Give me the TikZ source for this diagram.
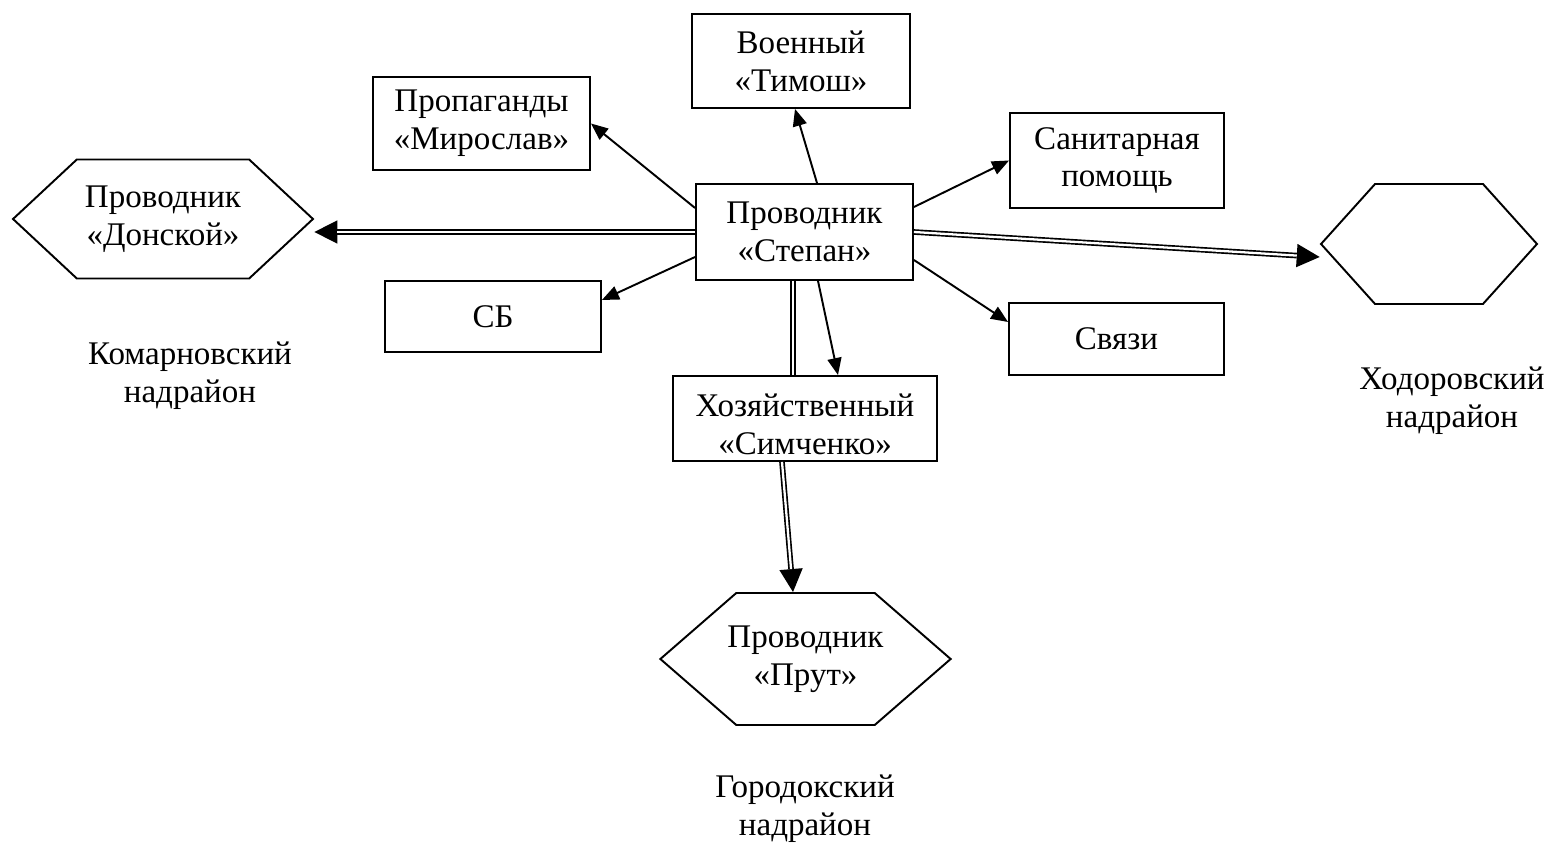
\documentclass[tikz,border=0pt]{standalone}
\usepackage{fontspec}
\setmainfont{Liberation Serif}
\usetikzlibrary{arrows.meta,positioning,calc,shapes.symbols}
\newcommand{\boxfont}{\fontsize{18.8}{21.6}\selectfont}
\tikzset{
  box/.style={draw, line width=1.1pt, align=center, inner sep=2pt, font=\boxfont},
  hexa/.style={draw, line width=1.1pt, shape=signal, signal to=east and west,
               align=center, inner sep=2pt, font=\boxfont},
  note/.style={align=center, font=\boxfont},
  flow/.style={-{Triangle[length=0.34cm,width=0.28cm]}, line width=1.1pt},
  tipd/.style={-{Triangle[length=0.46cm,width=0.46cm]}, line width=0.9pt},
  dbl/.style={double, double distance=1.3pt, line width=0.95pt},
}
\begin{document}
\begin{tikzpicture}[x=0.02cm, y=-0.02cm]
  \useasboundingbox (0,0) rectangle (1548,844);
  % departments
  \node[box, minimum width=4.36cm, minimum height=1.88cm] (voen) at (801,61) {Военный\\«Тимош»};
  \node[box, minimum width=4.34cm, minimum height=1.86cm] (prop) at (481.5,123.5) {Пропаганды\\«Мирослав»};
  \node[box, minimum width=4.28cm, minimum height=1.9cm] (sanit) at (1117,160.5) {Санитарная\\помощь};
  \node[box, minimum width=4.34cm, minimum height=1.92cm] (stepan) at (804.5,232) {Проводник\\«Степан»};
  \node[box, minimum width=4.32cm, minimum height=1.42cm] (sb) at (493,316.5) {СБ};
  \node[box, minimum width=4.3cm, minimum height=1.44cm] (svyazi) at (1116.5,339) {Связи};
  \node[box, minimum width=5.28cm, minimum height=1.7cm] (hoz) at (805,418.5)
    {\raisebox{-0.18cm}[\height][\depth]{\begin{tabular}{@{}c@{}}Хозяйственный\\«Симченко»\end{tabular}}};
  % neighbouring districts
  \node[hexa, minimum width=6cm, minimum height=2.38cm, signal pointer angle=86] (donskoy) at (163,219) {Проводник\\«Донской»};
  \node[hexa, minimum width=4.32cm, minimum height=2.4cm, signal pointer angle=96] (khod) at (1429,244) {};
  \node[hexa, minimum width=5.78cm, minimum height=2.64cm, signal pointer angle=82, inner xsep=-5pt] (prut) at (805.5,659) {Проводник\\«Прут»};
  \node[note] (komarn) at (190,376) {Комарновский\\надрайон};
  \node[note] (khodor) at (1452,401) {Ходоровский\\надрайон};
  \node[note] (gorod) at (805,809) {Городокский\\надрайон};
  % single links
  \draw[flow] ($(stepan.west)+(0,-24)$) -- (prop.east);
  \draw[flow] ($(stepan.north)+(12.5,0)$) -- ($(voen.south)+(-6,0)$);
  \draw[flow] ($(stepan.east)+(0,-25)$) -- (sanit.west);
  \draw[flow] ($(stepan.west)+(0,25)$) -- ($(sb.east)+(0,-16.5)$);
  \draw[flow] ($(stepan.east)+(0,28)$) -- ($(svyazi.west)+(0,-17)$);
  \draw[flow] ($(stepan.south)+(13.5,0)$) -- ($(hoz.north)+(33,0)$);
  % double links
  \coordinate (dl) at (stepan.west -| donskoy.east);
  \draw[tipd] (stepan.west) -- (dl);
  \draw[dbl, shorten >=0.46cm] (stepan.west) -- (dl);
  \coordinate (kr) at ($(khod.west)+(0,13)$);
  \draw[tipd] (stepan.east) -- (kr);
  \draw[dbl, shorten >=0.46cm] (stepan.east) -- (kr);
  \coordinate (hs) at ($(stepan.south)+(-11.5,0)$);
  \draw[dbl] (hs) -- (hs |- hoz.north);
  \coordinate (hb) at ($(hoz.south)+(-23,0)$);
  \coordinate (pt) at ($(prut.north)+(-12.5,0)$);
  \draw[tipd] (hb) -- (pt);
  \draw[dbl, shorten >=0.46cm] (hb) -- (pt);
\end{tikzpicture}
\end{document}
